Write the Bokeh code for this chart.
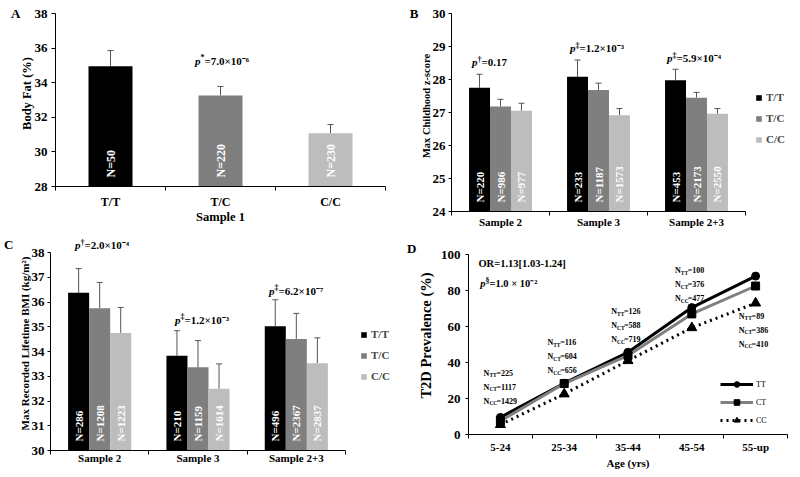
import math
from bokeh.plotting import figure
from bokeh.models import (Range1d, FixedTicker, Label, Legend, LegendItem, Whisker,
                          TeeHead, ColumnDataSource, LinearAxis)
from bokeh.layouts import column, row
from bokeh.embed import file_html
from bokeh.resources import INLINE
from bokeh.core.properties import value

FONT = "Liberation Serif"

# ---------------- data ----------------
genotypes = ["T/T", "T/C", "C/C"]
geno_colors = ["#000000", "#7f7f7f", "#bdbdbd"]

# Panel A (Sample 1)
a_groups = ["T/T", "T/C", "C/C"]
a_mean = [34.95, 33.26, 31.08]
a_upper = [35.86, 33.78, 31.58]
a_n = [50, 220, 230]

# Panel B (Max Childhood z-score)
samples = ["Sample 2", "Sample 3", "Sample 2+3"]
b_tt = [27.75, 28.08, 27.98]
b_tt_up = [28.16, 28.59, 28.31]
b_tt_n = [220, 233, 453]
b_tc = [27.18, 27.68, 27.45]
b_tc_up = [27.40, 27.89, 27.61]
b_tc_n = [986, 1187, 2173]
b_cc = [27.05, 26.92, 26.96]
b_cc_up = [27.28, 27.12, 27.12]
b_cc_n = [977, 1573, 2550]
b_p_mark = ["\u2020", "\u2021", "\u2021"]
b_p_val = ["=0.17", "=1.2\u00d710\u207b\u00b3", "=5.9\u00d710\u207b\u2074"]

# Panel C (Max recorded lifetime BMI)
c_tt = [36.37, 33.83, 35.02]
c_tt_up = [37.35, 34.84, 36.09]
c_tt_n = [286, 210, 496]
c_tc = [35.75, 33.36, 34.51]
c_tc_up = [36.79, 34.44, 35.54]
c_tc_n = [1208, 1159, 2367]
c_cc = [34.75, 32.49, 33.53]
c_cc_up = [35.78, 33.50, 34.55]
c_cc_n = [1223, 1614, 2837]
c_p_mark = ["\u2020", "\u2021", "\u2021"]
c_p_val = ["=2.0\u00d710\u207b\u2074", "=1.2\u00d710\u207b\u00b3", "=6.2\u00d710\u207b\u2077"]

# Panel D (T2D prevalence)
ages = ["5-24", "25-34", "35-44", "45-54", "55-up"]
d_tt = [9.5, 28.5, 45.7, 70.5, 88.0]
d_ct = [7.5, 28.3, 43.9, 67.0, 82.5]
d_cc = [5.5, 22.5, 41.0, 59.3, 73.0]
d_n_tt = [225, 116, 126, 100, 89]
d_n_ct = [1117, 604, 588, 376, 386]
d_n_cc = [1429, 656, 719, 477, 410]

# annotation anchor positions (data coords)
a_p_pos = (1.318, 35.28)
b_p_pos = [(0.265, 28.52), (1.265, 28.94), (2.255, 28.64)]
c_p_pos = [(0.305, 38.3), (1.322, 35.29), (2.279, 36.46)]
d_n_label_y = [33.9, 51.1, 68.3, 91.1, 65.6]


# ---------------- helpers ----------------
def make_fig(width, height, borders, cats, x_end, y_start, y_top, y_end, y_ticks,
             tick_size, cat_size, xlabel, ylabel, xlabel_size, ylabel_size,
             ystand, ylab_stand, xstand, xlab_stand, ytick_out=4):
    bl, br, bt, bb = borders
    p = figure(width=width, height=height, min_border_left=bl, min_border_right=br,
               min_border_top=bt, min_border_bottom=bb,
               x_range=Range1d(0, x_end), y_range=Range1d(y_start, y_end),
               output_backend="svg", toolbar_location=None)
    p.outline_line_color = None
    p.xgrid.visible = False
    p.ygrid.visible = False
    centers = [i + 0.5 for i in range(len(cats))]
    p.xaxis.ticker = FixedTicker(ticks=centers, minor_ticks=list(range(len(cats) + 1)))
    p.xaxis.major_label_overrides = {c: l for c, l in zip(centers, cats)}
    p.xaxis.bounds = (0, len(cats))
    p.xaxis.major_tick_in = 0
    p.xaxis.major_tick_out = 0
    p.xaxis.minor_tick_in = 0
    p.xaxis.minor_tick_out = 4
    p.yaxis.ticker = FixedTicker(ticks=y_ticks)
    p.yaxis.bounds = (y_start, y_top)
    p.yaxis.major_tick_in = 0
    p.yaxis.major_tick_out = ytick_out
    p.yaxis.minor_tick_in = 0
    p.yaxis.minor_tick_out = 0
    for ax in p.axis:
        ax.axis_line_color = "black"
        ax.major_tick_line_color = "black"
        ax.minor_tick_line_color = "black"
        ax.major_label_text_font = FONT
        ax.major_label_text_font_style = "bold"
        ax.major_label_text_color = "black"
        ax.axis_label_text_font = FONT
        ax.axis_label_text_font_style = "bold"
        ax.axis_label_text_color = "black"
    if xlabel:
        p.xaxis.axis_label = xlabel
    p.yaxis.axis_label = ylabel
    p.xaxis.major_label_text_font_size = cat_size
    p.yaxis.major_label_text_font_size = tick_size
    p.xaxis.axis_label_text_font_size = xlabel_size
    p.yaxis.axis_label_text_font_size = ylabel_size
    p.yaxis.major_label_standoff = ystand
    p.yaxis.axis_label_standoff = ylab_stand
    p.xaxis.major_label_standoff = xstand
    p.xaxis.axis_label_standoff = xlab_stand
    return p


def panel_letter(p, letter, y, standoff):
    ax = LinearAxis(ticker=FixedTicker(ticks=[y]), major_label_overrides={y: letter},
                    axis_line_color=None, major_tick_line_color=None,
                    minor_tick_line_color=None, major_tick_out=0, major_tick_in=0,
                    minor_tick_out=0, minor_tick_in=0, major_label_standoff=standoff,
                    major_label_text_font=FONT, major_label_text_font_style="bold",
                    major_label_text_font_size="13px", major_label_text_color="black")
    p.add_layout(ax, "left")


def p_label(p, x, y, mark, rest, size="11px", mark_dy=3, gap=4):
    p.add_layout(Label(x=x, y=y, text="p", text_font=FONT, text_font_style="bold italic",
                       text_font_size=size, text_align="right", text_baseline="middle",
                       text_color="black"))
    p.add_layout(Label(x=x, y=y, y_offset=mark_dy, text=mark, text_font=FONT,
                       text_font_style="bold", text_font_size="8px", text_align="left",
                       text_baseline="middle", text_color="black"))
    p.add_layout(Label(x=x, y=y, x_offset=gap, text=rest, text_font=FONT,
                       text_font_style="bold", text_font_size=size, text_align="left",
                       text_baseline="middle", text_color="black"))


def bars(p, xs, means, ups, ns, color, width, y0, nsize):
    src = ColumnDataSource(dict(x=xs, top=means, upper=ups,
                                n=["N=%d" % n for n in ns], base=[y0] * len(xs)))
    r = p.vbar(x="x", top="top", bottom=y0, width=width, source=src,
               fill_color=color, line_color=None)
    p.add_layout(Whisker(source=src, base="x", lower="top", upper="upper",
                         dimension="height", line_color="#555555", line_width=1,
                         upper_head=TeeHead(size=6, line_color="#555555", line_width=1),
                         lower_head=None))
    p.text(x="x", y="base", text="n", source=src, angle=math.pi / 2,
           text_align="left", text_baseline="middle", y_offset=-9,
           text_font=value(FONT), text_font_style="bold", text_font_size=nsize,
           text_color="white")
    return r


def bar_legend(p, renderers, loc):
    leg = Legend(items=[LegendItem(label=g, renderers=[r]) for g, r in zip(genotypes, renderers)],
                 location=loc, glyph_width=7, glyph_height=7, label_height=14,
                 spacing=7, padding=0, margin=0, border_line_color=None,
                 background_fill_alpha=0, label_text_font=FONT,
                 label_text_font_style="bold", label_text_font_size="11px",
                 label_standoff=4)
    p.add_layout(leg)


# ---------------- Panel A ----------------
# frame: x 55..385, y 0..186 (38 at y=13)
pa = make_fig(400, 236, (55, 15, 0, 50), a_groups, 3, 28, 38, 38 + 13 * 10 / 173,
              [28, 30, 32, 34, 36, 38],
              "13px", "12px", "Sample 1", "Body Fat (%)", "12.5px", "12.5px",
              4, -2, 4, -2)
xa = [i + 0.5 for i in range(3)]
for i in range(3):
    bars(pa, [xa[i]], [a_mean[i]], [a_upper[i]], [a_n[i]], geno_colors[i], 0.4, 28, "12px")
p_label(pa, a_p_pos[0], a_p_pos[1], "*", "=7.0\u00d710\u207b\u2076")
panel_letter(pa, "A", 38, -4)

# ---------------- Panel B ----------------
# frame: x 451..800 (axis to 745), y 0..211 (30 at y=13)
pb = make_fig(400, 236, (51, 0, 0, 25), samples, 3 + 55 / 98, 24, 30, 30 + 13 / 33,
              [24, 25, 26, 27, 28, 29, 30],
              "13px", "11px", "", "Max Childhood z-score", "11px", "10.5px",
              3, -2, 0, 0, ytick_out=3)
offs = [-0.214, 0.0, 0.214]
b_series = [(b_tt, b_tt_up, b_tt_n), (b_tc, b_tc_up, b_tc_n), (b_cc, b_cc_up, b_cc_n)]
rb = []
for g, (m, u, n) in enumerate(b_series):
    xs = [i + 0.5 + offs[g] for i in range(3)]
    rb.append(bars(pb, xs, m, u, n, geno_colors[g], 0.214, 24, "11px"))
for (x, y), mk, v in zip(b_p_pos, b_p_mark, b_p_val):
    p_label(pb, x, y, mk, v)
bar_legend(pb, rb, (304, 65))
panel_letter(pb, "B", 30, -1)

# ---------------- Panel C ----------------
# canvas y 236..477; frame y 236..450 (38 at 252), x 50..400 (axis to 345)
pc = make_fig(400, 241, (50, 0, 0, 27), samples, 3 + 55 / 98.3, 30, 38, 38 + 16 / 24.75,
              list(range(30, 39)),
              "13px", "11px", "", "Max Recorded Lifetime BMI (kg/m\u00b2)", "11px", "11px",
              3, -2, -3, 0, ytick_out=3)
c_series = [(c_tt, c_tt_up, c_tt_n), (c_tc, c_tc_up, c_tc_n), (c_cc, c_cc_up, c_cc_n)]
rc = []
for g, (m, u, n) in enumerate(c_series):
    xs = [i + 0.5 + offs[g] for i in range(3)]
    rc.append(bars(pc, xs, m, u, n, geno_colors[g], 0.214, 30, "11px"))
for (x, y), mk, v in zip(c_p_pos, c_p_mark, c_p_val):
    p_label(pc, x, y, mk, v)
bar_legend(pc, rc, (310, 67))
panel_letter(pc, "C", 38.36, 2)

# ---------------- Panel D ----------------
# frame: x 468..787, y 236..434 (100 at 254)
pd_ = make_fig(400, 241, (68, 13, 0, 43), ages, 5, 0, 100, 110,
               [0, 20, 40, 60, 80, 100],
               "13px", "11px", "Age (yrs)", "T2D Prevalence (%)", "11px", "14.5px",
               5, 4, 2, 1, ytick_out=3)
xd = [i + 0.5 for i in range(len(ages))]
l_tt = pd_.line(xd, d_tt, line_color="black", line_width=3)
s_tt = pd_.scatter(xd, d_tt, marker="circle", size=8, color="black")
l_ct = pd_.line(xd, d_ct, line_color="#808080", line_width=3)
s_ct = pd_.scatter(xd, d_ct, marker="square", size=8, color="black")
l_cc = pd_.line(xd, d_cc, line_color="black", line_width=3, line_dash="2 4")
s_cc = pd_.scatter(xd, d_cc, marker="triangle", size=10, color="black")

leg_d = Legend(items=[LegendItem(label="TT", renderers=[l_tt, s_tt]),
                      LegendItem(label="CT", renderers=[l_ct, s_ct]),
                      LegendItem(label="CC", renderers=[l_cc, s_cc])],
               location=(252, 7), glyph_width=33, glyph_height=14, label_height=14,
               spacing=4, padding=0, margin=0, border_line_color=None,
               background_fill_alpha=0, label_text_font=FONT,
               label_text_font_size="8px", label_text_color="black", label_standoff=3)
pd_.add_layout(leg_d)

# N annotations
nx, ny, nyo, nsub, nval = [], [], [], [], []
for i in range(len(ages)):
    for r, (sub, arr) in enumerate([("TT", d_n_tt), ("CT", d_n_ct), ("CC", d_n_cc)]):
        nx.append(xd[i])
        ny.append(d_n_label_y[i])
        nyo.append(r * 14)
        nsub.append(sub)
        nval.append("=%d" % arr[i])
nsrc = ColumnDataSource(dict(x=nx, y=ny, yo=nyo, yo2=[v + 2 for v in nyo],
                             N=["N"] * len(nx), sub=nsub, val=nval))
pd_.text(x="x", y="y", text="N", source=nsrc, x_offset=-11, y_offset="yo",
         text_align="right", text_baseline="middle", text_font=value(FONT),
         text_font_style="bold", text_font_size="8px", text_color="black")
pd_.text(x="x", y="y", text="sub", source=nsrc, x_offset=-11, y_offset="yo2",
         text_align="left", text_baseline="middle", text_font=value(FONT),
         text_font_style="bold", text_font_size="5.5px", text_color="black")
pd_.text(x="x", y="y", text="val", source=nsrc, x_offset=-4, y_offset="yo",
         text_align="left", text_baseline="middle", text_font=value(FONT),
         text_font_style="bold", text_font_size="8px", text_color="black")

pd_.add_layout(Label(x=0.156, y=95, text="OR=1.13[1.03-1.24]", text_font=FONT,
                     text_font_style="bold", text_font_size="10.5px", text_align="left",
                     text_baseline="middle", text_color="black"))
p_label(pd_, 0.266, 83.9, "\u00a7", "=1.0 \u00d7 10\u207b\u00b2", size="10.5px")
panel_letter(pd_, "D", 103.3, -2)

# wrap each figure on its own so that the row does not line up their frames
layout = column(row(column(pa), column(pb)), row(column(pc), column(pd_)))
open("out.html", "w").write(file_html(layout, INLINE))
